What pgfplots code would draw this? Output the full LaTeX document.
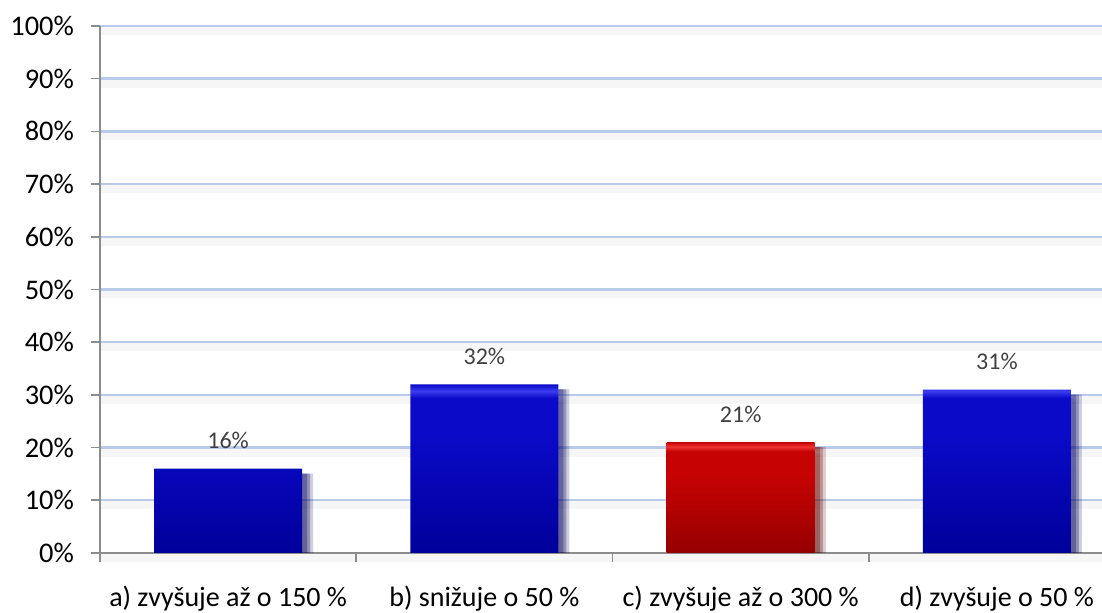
\documentclass[border=0pt]{standalone}
\usepackage{fontspec}
\setmainfont{Carlito}
\usepackage{pgfplots}
\pgfplotsset{compat=1.18}

\definecolor{gridblue}{HTML}{B9CBEA}
\definecolor{axisgray}{HTML}{8C8C8C}
\definecolor{labelgray}{HTML}{404040}
\definecolor{bluebot}{HTML}{00009A}
\definecolor{bluemid}{HTML}{0A0AC8}
\definecolor{bluelight}{HTML}{3C3CF0}
\definecolor{redbot}{HTML}{960000}
\definecolor{redmid}{HTML}{C60202}
\definecolor{redlight}{HTML}{F03434}

% bar fills: darker at the base, thin light bevel along the top edge
\pgfdeclareverticalshading{bluebar}{100bp}{color(0bp)=(bluebot); color(25bp)=(bluebot);
  color(60bp)=(bluemid); color(71bp)=(bluemid); color(73bp)=(bluelight); color(75bp)=(bluemid); color(100bp)=(bluemid)}
\pgfdeclareverticalshading{redbar}{100bp}{color(0bp)=(redbot); color(25bp)=(redbot);
  color(60bp)=(redmid); color(71bp)=(redmid); color(73bp)=(redlight); color(75bp)=(redmid); color(100bp)=(redmid)}

\tikzset{
  barshadow/.style={
    preaction={fill=black, opacity=0.10, transform canvas={xshift=5.5pt, yshift=-2.5pt}},
    preaction={fill=black, opacity=0.16, transform canvas={xshift=4pt, yshift=-2.5pt}},
    preaction={fill=black, opacity=0.18, transform canvas={xshift=2.5pt, yshift=-2.5pt}},
  }
}

\begin{document}
\begin{tikzpicture}
\begin{axis}[
  at={(0,0)}, anchor=south west,
  scale only axis,
  width=501pt, height=263.5pt,
  xmin=-0.5, xmax=3.41,
  ymin=0, ymax=100,
  axis lines=left,
  axis line style={-, draw=axisgray, line width=0.8pt},
  tick align=outside,
  tick style={draw=axisgray, line width=0.8pt},
  major tick length=4.5pt,
  ytick={0,10,...,100},
  yticklabel={\pgfmathprintnumber{\tick}\%},
  yticklabel style={font=\fontsize{14.2}{17}\selectfont, black, xshift=-5pt},
  y tick label style={/pgf/number format/assume math mode=true},
  xtick={-0.5,0.5,1.5,2.5},
  xticklabels={},
  extra x ticks={0,1,2,3},
  extra x tick labels={a) zvyšuje až o 150 \%, b) snižuje o 50 \%, c) zvyšuje až o 300 \%, d) zvyšuje o 50 \%},
  extra x tick style={major tick length=0pt, tick label style={font=\fontsize{14}{17}\selectfont, black, yshift=-13pt}},
  ymajorgrids,
  major grid style={draw=gridblue, line width=1.2pt,
    preaction={draw=black, draw opacity=0.035, line width=4pt, transform canvas={yshift=-2.5pt}}},
  ybar, bar width=74pt,
  nodes near coords={\pgfmathprintnumber[assume math mode=true]{\pgfplotspointmeta}\%},
  every node near coord/.append style={font=\fontsize{12}{14}\selectfont, text=labelgray, anchor=base, yshift=10pt},
]
\addplot[bar shift=0pt, draw=none, shading=bluebar, barshadow]
  coordinates {(0,16) (1,32) (3,31)};
\addplot[bar shift=0pt, draw=none, shading=redbar, barshadow]
  coordinates {(2,21)};
\end{axis}
\pgfresetboundingbox
\path[use as bounding box] (-50pt,-30pt) rectangle (501pt,276.5pt);
\end{tikzpicture}
\end{document}
